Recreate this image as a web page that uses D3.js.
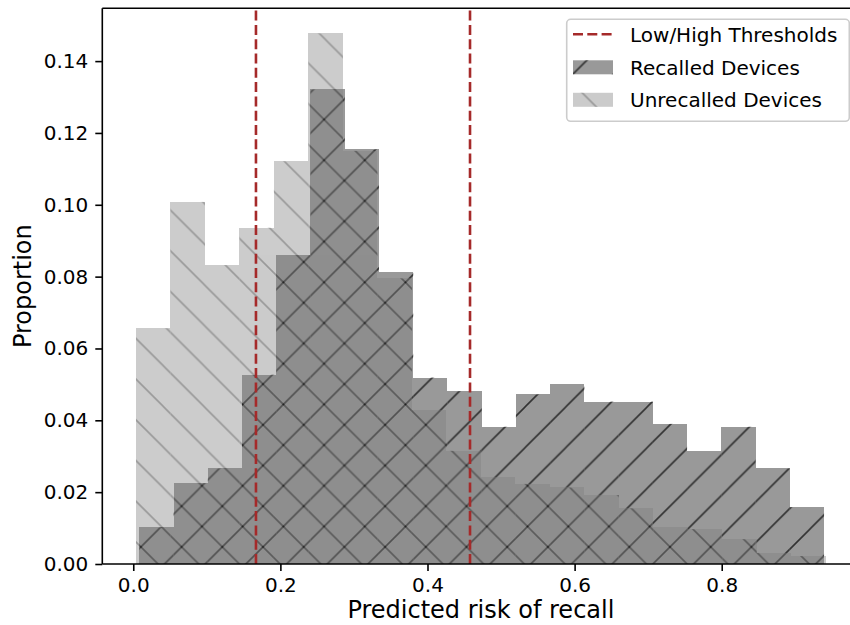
<!DOCTYPE html>
<html>
<head>
<meta charset="utf-8">
<script src="https://cdn.jsdelivr.net/npm/d3@7"></script>
<style>
  html, body { margin: 0; padding: 0; background: #ffffff; }
  svg { display: block; }
</style>
</head>
<body>
<div id="chart"></div>
<script>
// ---------------- data ----------------
const recalledEdges = [0.0082, 0.0547, 0.1013, 0.1478, 0.1944, 0.2409, 0.2875, 0.3340, 0.3806, 0.4271,
  0.4737, 0.5202, 0.5667, 0.6133, 0.6598, 0.7064, 0.7529, 0.7995, 0.8460, 0.8925, 0.9391];
const recalledValues = [0.0102, 0.0225, 0.0266, 0.0527, 0.0860, 0.1321, 0.1154, 0.0812, 0.0519, 0.0481,
  0.0382, 0.0472, 0.0500, 0.0452, 0.0452, 0.0390, 0.0315, 0.0382, 0.0266, 0.0158];

const unrecalledEdges = [0.0037, 0.0506, 0.0975, 0.1444, 0.1912, 0.2381, 0.2850, 0.3319, 0.3788, 0.4257,
  0.4726, 0.5194, 0.5663, 0.6132, 0.6601, 0.7070, 0.7539, 0.8008, 0.8476, 0.8945, 0.9414];
const unrecalledValues = [0.0656, 0.1008, 0.0832, 0.0936, 0.1121, 0.1477, 0.1150, 0.0795, 0.0429, 0.0315,
  0.0243, 0.0223, 0.0213, 0.0192, 0.0155, 0.0102, 0.0097, 0.0069, 0.0031, 0.0022];

const thresholds = [0.1668, 0.4578];

const xTicks = [0.0, 0.2, 0.4, 0.6, 0.8];
const yTicks = [0.00, 0.02, 0.04, 0.06, 0.08, 0.10, 0.12, 0.14];

const legendLabels = ["Low/High Thresholds", "Recalled Devices", "Unrecalled Devices"];
const xLabel = "Predicted risk of recall";
const yLabel = "Proportion";

// ---------------- layout ----------------
(function () {
const W = 850, H = 625;
const mLeft = 102.3, mRight = 859.5, mTop = 8.3, mBottom = 564;
const FONT = "'DejaVu Sans', sans-serif";

const svg = d3.select("#chart").append("svg")
  .attr("width", W).attr("height", H)
  .attr("viewBox", `0 0 ${W} ${H}`);

const x = d3.scaleLinear().domain([-0.0421, 0.9873]).range([mLeft, mRight]);
const y = d3.scaleLinear().domain([0, 0.1547]).range([mBottom, mTop]);

// hatch patterns (global anchoring like matplotlib)
const S = 40.7, HW = 1.6;
const defs = svg.append("defs");
const pSlash = defs.append("pattern").attr("id", "hatchSlash")
  .attr("patternUnits", "userSpaceOnUse")
  .attr("x", 36.6).attr("y", 0).attr("width", S).attr("height", S);
pSlash.append("path")
  .attr("d", `M${-S/4},${S/4}L${S/4},${-S/4}M0,${S}L${S},0M${3*S/4},${5*S/4}L${5*S/4},${3*S/4}`)
  .attr("stroke", "#000").attr("stroke-width", HW).attr("fill", "none");
const pBack = defs.append("pattern").attr("id", "hatchBack")
  .attr("patternUnits", "userSpaceOnUse")
  .attr("x", 1.0).attr("y", 0).attr("width", S).attr("height", S);
pBack.append("path")
  .attr("d", `M0,0L${S},${S}M${3*S/4},${-S/4}L${5*S/4},${S/4}M${-S/4},${3*S/4}L${S/4},${5*S/4}`)
  .attr("stroke", "#000").attr("stroke-width", HW).attr("fill", "none");

const clip = defs.append("clipPath").attr("id", "plotClip");
clip.append("rect").attr("x", mLeft).attr("y", mTop).attr("width", mRight - mLeft).attr("height", mBottom - mTop);

function binData(edges, values) {
  return values.map((v, i) => ({ x0: edges[i], x1: edges[i + 1], v }));
}

function drawSeries(data, opacity, patternId) {
  const g = svg.append("g").attr("opacity", opacity).attr("clip-path", "url(#plotClip)");
  g.selectAll("rect.fill").data(data).join("rect")
    .attr("class", "fill")
    .attr("x", d => x(d.x0)).attr("width", d => x(d.x1) - x(d.x0))
    .attr("y", d => y(d.v)).attr("height", d => y(0) - y(d.v))
    .attr("fill", "#808080").attr("shape-rendering", "crispEdges");
  g.selectAll("rect.hatch").data(data).join("rect")
    .attr("class", "hatch")
    .attr("x", d => x(d.x0)).attr("width", d => x(d.x1) - x(d.x0))
    .attr("y", d => y(d.v)).attr("height", d => y(0) - y(d.v))
    .attr("fill", `url(#${patternId})`);
}

// recalled drawn first, unrecalled on top
drawSeries(binData(recalledEdges, recalledValues), 0.8, "hatchSlash");
drawSeries(binData(unrecalledEdges, unrecalledValues), 0.4, "hatchBack");

// threshold lines
svg.append("g").selectAll("line").data(thresholds).join("line")
  .attr("x1", d => x(d)).attr("x2", d => x(d))
  .attr("y1", mBottom).attr("y2", mTop)
  .attr("stroke", "#a52a2a").attr("stroke-width", 2.6)
  .attr("stroke-dasharray", "10,4.3");

// axes
const xAxis = svg.append("g").attr("transform", `translate(0,${mBottom})`)
  .call(d3.axisBottom(x).tickValues(xTicks).tickFormat(d3.format(".1f"))
    .tickSize(7).tickPadding(7).tickSizeOuter(0));
const yAxis = svg.append("g").attr("transform", `translate(${mLeft},0)`)
  .call(d3.axisLeft(y).tickValues(yTicks).tickFormat(d3.format(".2f"))
    .tickSize(7).tickPadding(7).tickSizeOuter(0));
[xAxis, yAxis].forEach(a => {
  a.select(".domain").remove();
  a.selectAll(".tick line").attr("stroke", "#000").attr("stroke-width", 1.6);
  a.selectAll(".tick text").attr("fill", "#000").style("font-family", FONT).style("font-size", "20px");
});

// spines
const spines = svg.append("g").attr("stroke", "#000").attr("stroke-width", 1.6).attr("fill", "none");
spines.append("line").attr("x1", mLeft).attr("x2", mLeft).attr("y1", mTop).attr("y2", mBottom);
spines.append("line").attr("x1", mLeft).attr("x2", mRight).attr("y1", mBottom).attr("y2", mBottom);
spines.append("line").attr("x1", mLeft).attr("x2", mRight).attr("y1", mTop).attr("y2", mTop);
spines.append("line").attr("x1", mRight).attr("x2", mRight).attr("y1", mTop).attr("y2", mBottom);

// axis labels
svg.append("text").attr("x", (mLeft + mRight) / 2).attr("y", 618)
  .attr("text-anchor", "middle").style("font-family", FONT).style("font-size", "24px")
  .attr("fill", "#000").text(xLabel);
svg.append("text").attr("transform", `translate(31,${(mTop + mBottom) / 2}) rotate(-90)`)
  .attr("text-anchor", "middle").style("font-family", FONT).style("font-size", "24px")
  .attr("fill", "#000").text(yLabel);

// legend
const lg = svg.append("g");
lg.append("rect").attr("x", 566.7).attr("y", 19.3).attr("width", 282.6).attr("height", 102)
  .attr("rx", 4).attr("fill", "#fff").attr("fill-opacity", 0.8)
  .attr("stroke", "#cccccc").attr("stroke-width", 1.6);
const rowY = [34.3, 67.3, 99.8];
lg.append("line").attr("x1", 573).attr("x2", 613).attr("y1", rowY[0]).attr("y2", rowY[0])
  .attr("stroke", "#a52a2a").attr("stroke-width", 2.6).attr("stroke-dasharray", "10,4.3");
const legPatches = [
  { row: 1, op: 0.8, pat: "hatchSlash" },
  { row: 2, op: 0.4, pat: "hatchBack" }
];
legPatches.forEach(p => {
  const g = lg.append("g").attr("opacity", p.op);
  g.append("rect").attr("x", 573).attr("y", rowY[p.row] - 7).attr("width", 40).attr("height", 14)
    .attr("fill", "#808080");
  g.append("rect").attr("x", 573).attr("y", rowY[p.row] - 7).attr("width", 40).attr("height", 14)
    .attr("fill", `url(#${p.pat})`);
});
lg.selectAll("text").data(legendLabels).join("text")
  .attr("x", 630).attr("y", (d, i) => rowY[i] + 7.5)
  .style("font-family", FONT).style("font-size", "20px").attr("fill", "#000")
  .text(d => d);
})();
</script>
</body>
</html>
